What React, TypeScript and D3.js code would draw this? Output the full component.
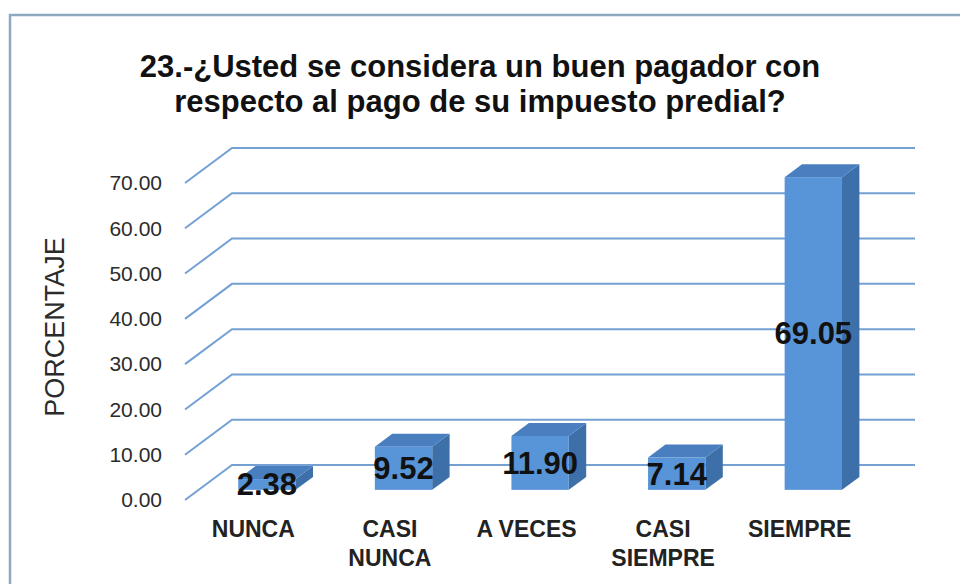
import React from 'react';
import { scaleBand, scaleLinear } from 'd3';

const categories = ['NUNCA', 'CASI NUNCA', 'A VECES', 'CASI SIEMPRE', 'SIEMPRE'];
const categoryLines = [['NUNCA'], ['CASI', 'NUNCA'], ['A VECES'], ['CASI', 'SIEMPRE'], ['SIEMPRE']];
const values = [2.38, 9.52, 11.9, 7.14, 69.05];
const yTicks = [0, 10, 20, 30, 40, 50, 60, 70];
const titleLines = ['23.-¿Usted se considera un buen pagador con', 'respecto al pago de su impuesto predial?'];
const yTitle = 'PORCENTAJE';

const W = 960;
const H = 584;
const FONT = '"Liberation Sans", Arial, sans-serif';

// oblique 3d: full floor depth offset
const DX = 47;
const DY = 35;
const Z0 = 0.29;
const Z1 = 0.66;

const App = () => {
    const x = scaleBand<string>().domain(categories).range([185, 868]);
    const y = scaleLinear().domain([0, 70]).range([500, 183]);
    const bw = x.bandwidth() * 0.42;

    return (
        <svg width={W} height={H} style={{ position: 'absolute', left: 0, top: 0 }} fontFamily={FONT}>
            <rect x={0} y={0} width={W} height={H} fill="#fff" />
            {/* chart frame */}
            <path d={`M10,${H} L10,15 L${W},15`} fill="none" stroke="#8fa8c2" strokeWidth={2.5} />

            {/* title */}
            {titleLines.map((t, i) => (
                <text key={i} x={480} y={77 + i * 35} textAnchor="middle" fontSize={31} fontWeight="bold" fill="#111">
                    {t}
                </text>
            ))}

            {/* gridlines on side wall + back wall */}
            {yTicks.map(v => (
                <path
                    key={v}
                    d={`M185,${y(v)} L${185 + DX},${y(v) - DY} L915,${y(v) - DY}`}
                    fill="none"
                    stroke="#74a0d4"
                    strokeWidth={2}
                />
            ))}

            {/* tick labels */}
            {yTicks.map(v => (
                <text key={v} x={162} y={y(v)} dy="0.35em" textAnchor="end" fontSize={21} fill="#2b2b2b">
                    {v.toFixed(2)}
                </text>
            ))}

            <text transform={`translate(64,327) rotate(-90)`} textAnchor="middle" fontSize={27} fill="#2b2b2b">
                {yTitle}
            </text>

            {/* bars */}
            {categories.map((c, i) => {
                const x0 = (x(c) as number) + x.bandwidth() / 2 - bw / 2 + Z0 * DX;
                const x1 = x0 + bw;
                const yb = y(0) - Z0 * DY;
                const yt = y(values[i]) - Z0 * DY;
                const ox = (Z1 - Z0) * DX;
                const oy = (Z1 - Z0) * DY;
                return (
                    <g key={c}>
                        <path d={`M${x1},${yb} L${x1 + ox},${yb - oy} L${x1 + ox},${yt - oy} L${x1},${yt} Z`} fill="#3d70a8" />
                        <path d={`M${x0},${yt} L${x0 + ox},${yt - oy} L${x1 + ox},${yt - oy} L${x1},${yt} Z`} fill="#4a7fbf" />
                        <rect x={x0} y={yt} width={bw} height={yb - yt} fill="#5894d8" />
                    </g>
                );
            })}

            {/* data labels */}
            {categories.map((c, i) => {
                const cx = (x(c) as number) + x.bandwidth() / 2 + Z0 * DX;
                const cy = (y(0) + y(values[i])) / 2 - Z0 * DY;
                return (
                    <text key={c} x={cx} y={cy} dy="0.35em" textAnchor="middle" fontSize={31} fontWeight="bold" fill="#111">
                        {values[i].toFixed(2)}
                    </text>
                );
            })}

            {/* category labels */}
            {categories.map((c, i) => (
                <text key={c} x={(x(c) as number) + x.bandwidth() / 2} y={537} textAnchor="middle" fontSize={23} fontWeight="bold" fill="#222">
                    {categoryLines[i].map((l, j) => (
                        <tspan key={j} x={(x(c) as number) + x.bandwidth() / 2} dy={j === 0 ? 0 : 29}>
                            {l}
                        </tspan>
                    ))}
                </text>
            ))}
        </svg>
    );
};

export default App;
